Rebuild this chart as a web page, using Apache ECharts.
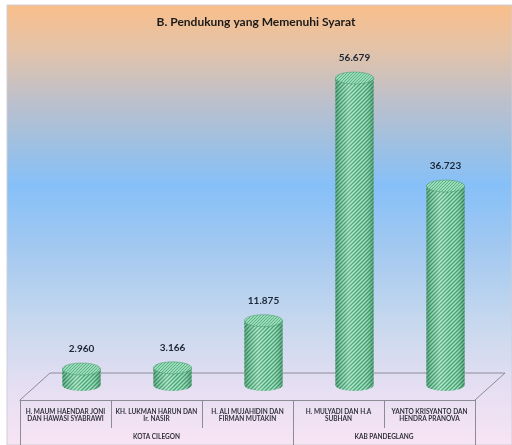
<!DOCTYPE html>
<html>
<head>
<meta charset="utf-8">
<script src="https://cdn.jsdelivr.net/npm/echarts@6/dist/echarts.min.js"></script>
<style>
html,body{margin:0;padding:0;background:#fff;}
#c{width:512px;height:445px;}
</style>
</head>
<body>
<div id="c"></div>
<script>
const titleText = 'B. Pendukung yang Memenuhi Syarat';
const categories = [
  'H. MAUM HAENDAR JONI\nDAN HAWASI SYABRAWI',
  'KH. LUKMAN HARUN DAN\nIr. NASIR',
  'H. ALI MUJAHIDIN DAN\nFIRMAN MUTAKIN',
  'H. MULYADI DAN H.A\nSUBHAN',
  'YANTO KRISYANTO DAN\nHENDRA PRANOVA'
];
const values = [2960, 3166, 11875, 56679, 36723];
const groupNames = ['KOTA CILEGON', 'KAB PANDEGLANG'];
const groupSizes = [3, 2];

function fmt(v){ return String(v).replace(/\B(?=(\d{3})+(?!\d))/g, '.'); }

function makePattern(bg, fg, s, lw){
  const c = document.createElement('canvas');
  c.width = s; c.height = s;
  const g = c.getContext('2d');
  g.fillStyle = bg; g.fillRect(0,0,s,s);
  g.strokeStyle = fg; g.lineWidth = lw;
  g.beginPath();
  g.moveTo(0, s); g.lineTo(s, 0);
  g.moveTo(-1, 1); g.lineTo(1, -1);
  g.moveTo(s-1, s+1); g.lineTo(s+1, s-1);
  g.stroke();
  return c;
}
const sidePat = {image: makePattern('#a8e6c4', '#45a073', 4, 1.4), repeat: 'repeat'};
const topPat = {image: makePattern('#b6ecce', '#58b083', 3, 1.1), repeat: 'repeat'};

const groupTicks = [0];
const groupCenters = [];
let acc = 0;
groupSizes.forEach(n => { groupCenters.push(acc + n/2); acc += n; groupTicks.push(acc); });

const chart = echarts.init(document.getElementById('c'), null, {renderer: 'canvas'});
const FONT = 'Lato, "Open Sans", sans-serif';

chart.setOption({
  animation: false,
  title: {
    text: titleText, left: 'center', top: 11,
    textStyle: {fontFamily: FONT, fontSize: 12, fontWeight: 'bold', color: '#1a1a1a'}
  },
  graphic: [
    {type: 'rect', z: -100, silent: true,
     shape: {x: 7, y: 5, width: 505, height: 440},
     style: {
       fill: {type: 'linear', x: 0, y: 0, x2: 0, y2: 1, colorStops: [
         {offset: 0, color: '#f9be8a'},
         {offset: 0.1, color: '#e4c3a8'},
         {offset: 0.22, color: '#bcc0cc'},
         {offset: 0.32, color: '#9ec0e2'},
         {offset: 0.41, color: '#86c0f8'},
         {offset: 0.55, color: '#a2c8f0'},
         {offset: 0.72, color: '#c6d8ee'},
         {offset: 0.86, color: '#e4def2'},
         {offset: 1, color: '#f8e4f4'}
       ]},
       stroke: '#cfcfd6', lineWidth: 1
     }},
    {type: 'polyline', z: -50, silent: true,
     shape: {points: [[20, 400], [50, 373], [505, 373], [475, 400]]},
     style: {stroke: '#8c8c94', lineWidth: 1, fill: null}}
  ],
  grid: [
    {left: 36, right: 21, top: 60, bottom: 60},
    {left: 20, right: 37, top: 60, bottom: 45}
  ],
  xAxis: [
    {type: 'category', gridIndex: 0, data: categories, show: false},
    {type: 'category', gridIndex: 1, data: categories, position: 'bottom',
     axisLine: {show: true, lineStyle: {color: '#8c8c94', width: 1}},
     axisTick: {show: true, length: 28, lineStyle: {color: '#8c8c94'}},
     axisLabel: {fontFamily: FONT, fontSize: 6.5, fontWeight: 'bold', color: '#33333d', margin: 8, lineHeight: 7.5, interval: 0}},
    {type: 'value', gridIndex: 1, min: 0, max: categories.length, position: 'bottom', offset: 28,
     splitLine: {show: false},
     axisLine: {show: false},
     axisTick: {show: true, length: 17, customValues: groupTicks, lineStyle: {color: '#8c8c94'}},
     axisLabel: {fontFamily: FONT, fontSize: 6.5, fontWeight: 'bold', color: '#33333d', margin: 5,
       customValues: groupCenters,
       formatter: function(v){ const k = groupCenters.indexOf(v); return k >= 0 ? groupNames[k] : ''; }}}
  ],
  yAxis: [
    {type: 'value', gridIndex: 0, min: 0, max: 60000, show: false},
    {type: 'value', gridIndex: 1, show: false}
  ],
  series: [{
    type: 'custom',
    xAxisIndex: 0, yAxisIndex: 0,
    z: 5,
    data: values.map((v, i) => [i, v]),
    renderItem: function(params, api){
      const i = api.value(0), v = api.value(1);
      const top = api.coord([i, v]);
      const base = api.coord([i, 0]);
      const w = api.size([1, 0])[0] * 0.42;
      const rx = w / 2, ry = 6;
      const cx = top[0];
      const L = cx - rx, R = cx + rx;
      const body = 'M' + L + ' ' + top[1] + ' L' + L + ' ' + base[1] +
        ' A' + rx + ' ' + ry + ' 0 0 0 ' + R + ' ' + base[1] +
        ' L' + R + ' ' + top[1] + ' Z';
      return {
        type: 'group',
        children: [
          {type: 'path', shape: {pathData: body}, style: {fill: sidePat}},
          {type: 'path', shape: {pathData: body}, style: {
            fill: {type: 'linear', x: 0, y: 0, x2: 1, y2: 0, colorStops: [
              {offset: 0, color: 'rgba(25,95,60,0.45)'},
              {offset: 0.12, color: 'rgba(25,95,60,0.15)'},
              {offset: 0.35, color: 'rgba(255,255,255,0.18)'},
              {offset: 0.6, color: 'rgba(255,255,255,0)'},
              {offset: 0.88, color: 'rgba(25,95,60,0.15)'},
              {offset: 1, color: 'rgba(25,95,60,0.45)'}
            ]}
          }},
          {type: 'ellipse', shape: {cx: cx, cy: top[1], rx: rx, ry: ry},
           style: {fill: topPat, stroke: 'rgba(70,150,105,0.6)', lineWidth: 0.8}},
          {type: 'text', style: {
            text: fmt(v), x: cx, y: top[1] - ry - 9,
            align: 'center', verticalAlign: 'bottom',
            font: 'bold 10px ' + FONT, fill: '#1c2836'
          }}
        ]
      };
    }
  }]
});
</script>
</body>
</html>
